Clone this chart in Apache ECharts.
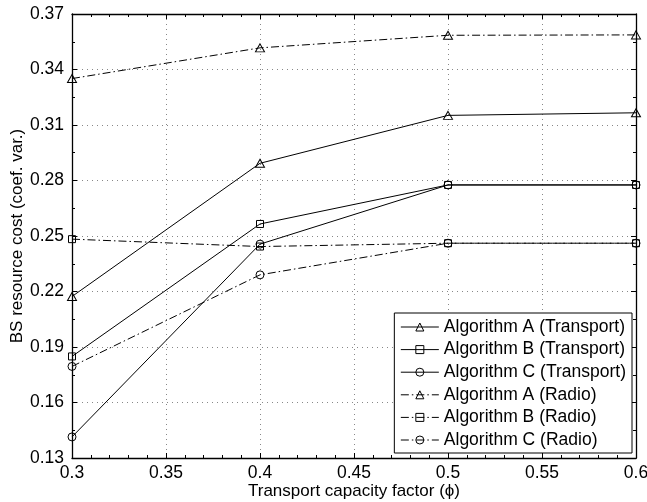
<!DOCTYPE html>
<html>
<head>
<meta charset="utf-8">
<script src="https://cdn.jsdelivr.net/npm/echarts@6/dist/echarts.min.js"></script>
<style>
html,body{margin:0;padding:0;background:#fff;}
#c{width:647px;height:502px;}
</style>
</head>
<body>
<div id="c"></div>
<script>
var xValues = [0.3, 0.4, 0.5, 0.6];
var algATransport = [0.2173, 0.2893, 0.3152, 0.3166];
var algBTransport = [0.1849, 0.2565, 0.2776, 0.2776];
var algCTransport = [0.1414, 0.2456, 0.2776, 0.2776];
var algARadio = [0.3351, 0.3517, 0.3585, 0.3587];
var algBRadio = [0.2483, 0.2443, 0.2461, 0.2461];
var algCRadio = [0.1795, 0.2290, 0.2461, 0.2461];
var seriesNames = ['Algorithm A (Transport)', 'Algorithm B (Transport)', 'Algorithm C (Transport)',
                   'Algorithm A (Radio)', 'Algorithm B (Radio)', 'Algorithm C (Radio)'];
var xTickRange = [0.3, 0.6, 0.05];
var yTickRange = [0.13, 0.37, 0.03];
var xTitle = 'Transport capacity factor (\u03d5)';
var yTitle = 'BS resource cost (coef. var.)';

var FONT = '"Liberation Sans", Arial, Helvetica, sans-serif';
function pairs(ys) { return xValues.map(function (x, i) { return [x, ys[i]]; }); }
var DASHDOT = [8, 3, 1.5, 3];
function mk(name, ys, symbol, size, dashed) {
  return {
    name: name, type: 'line', data: pairs(ys),
    symbol: symbol, symbolSize: size, showSymbol: true,
    itemStyle: { color: 'rgba(255,255,255,0)', borderColor: '#000', borderWidth: 1 },
    lineStyle: { color: '#000', width: 1, type: dashed ? DASHDOT : 'solid' },
    emphasis: { disabled: true },
    animation: false, clip: false, z: 3
  };
}
var tickCommon = { show: true, inside: true, length: 5, lineStyle: { color: '#000', width: 1 } };
var minorCommon = { show: true, length: 3, lineStyle: { color: '#000', width: 1 } };
function fmt(v) { return String(parseFloat(v.toFixed(2))); }

var chart = echarts.init(document.getElementById('c'), null, { renderer: 'canvas' });
chart.setOption({
  backgroundColor: '#fff',
  animation: false,
  textStyle: { fontFamily: FONT },
  grid: { left: 72, right: 11, top: 14, bottom: 44, containLabel: false, outerBoundsMode: 'none' },
  legend: {
    orient: 'vertical', right: 15, bottom: 49,
    data: seriesNames,
    backgroundColor: '#fff', borderColor: '#000', borderWidth: 1,
    padding: [5, 6, 4, 6], itemGap: 4.6, itemWidth: 38, itemHeight: 10,
    lineStyle: { width: 1, color: '#000' },
    itemStyle: { color: 'rgba(255,255,255,0)', borderColor: '#000', borderWidth: 1 },
    textStyle: { fontFamily: FONT, fontSize: 17.5, color: '#000', lineHeight: 17 },
    selectedMode: false
  },
  xAxis: [{
    type: 'value', min: xTickRange[0], max: xTickRange[1], interval: xTickRange[2],
    position: 'bottom',
    name: xTitle, nameLocation: 'middle', nameGap: 25, nameMoveOverlap: false,
    nameTextStyle: { fontFamily: FONT, fontSize: 17, color: '#000' },
    axisLine: { show: true, onZero: false, lineStyle: { color: '#000', width: 1.3 } },
    axisTick: tickCommon, minorTick: Object.assign({ splitNumber: 5 }, minorCommon),
    axisLabel: { fontFamily: FONT, fontSize: 17.5, color: '#000', margin: 6, formatter: fmt },
    splitLine: { show: true, lineStyle: { color: '#888', width: 1, type: [1, 4] } }
  }, {
    type: 'value', min: xTickRange[0], max: xTickRange[1], interval: xTickRange[2],
    position: 'top',
    axisLine: { show: true, onZero: false, lineStyle: { color: '#000', width: 1.3 } },
    axisTick: tickCommon, minorTick: Object.assign({ splitNumber: 5 }, minorCommon),
    axisLabel: { show: false }, splitLine: { show: false }
  }],
  yAxis: [{
    type: 'value', min: yTickRange[0], max: yTickRange[1], interval: yTickRange[2],
    position: 'left',
    name: yTitle, nameLocation: 'middle', nameGap: 46, nameMoveOverlap: false,
    nameTextStyle: { fontFamily: FONT, fontSize: 17, color: '#000' },
    axisLine: { show: true, onZero: false, lineStyle: { color: '#000', width: 1.3 } },
    axisTick: tickCommon, minorTick: Object.assign({ splitNumber: 2 }, minorCommon),
    axisLabel: { fontFamily: FONT, fontSize: 17.5, color: '#000', margin: 8, formatter: fmt },
    splitLine: { show: true, lineStyle: { color: '#888', width: 1, type: [1, 4] } }
  }, {
    type: 'value', min: yTickRange[0], max: yTickRange[1], interval: yTickRange[2],
    position: 'right',
    axisLine: { show: true, onZero: false, lineStyle: { color: '#000', width: 1.3 } },
    axisTick: tickCommon, minorTick: Object.assign({ splitNumber: 2 }, minorCommon),
    axisLabel: { show: false }, splitLine: { show: false }
  }],
  series: [
    mk(seriesNames[0], algATransport, 'triangle', [9, 8], false),
    mk(seriesNames[1], algBTransport, 'rect', 7, false),
    mk(seriesNames[2], algCTransport, 'circle', 8, false),
    mk(seriesNames[3], algARadio, 'triangle', [9, 8], true),
    mk(seriesNames[4], algBRadio, 'rect', 7, true),
    mk(seriesNames[5], algCRadio, 'circle', 8, true)
  ]
});
</script>
</body>
</html>
